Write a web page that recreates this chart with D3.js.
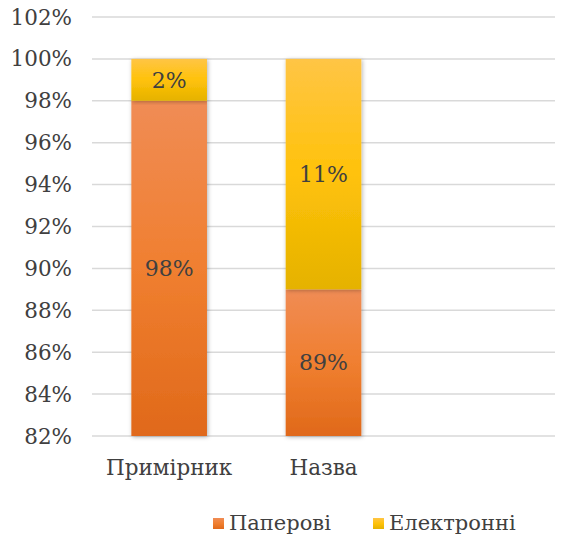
<!DOCTYPE html>
<html>
<head>
<meta charset="utf-8">
<script src="https://cdn.jsdelivr.net/npm/d3@7"></script>
<style>
  body { margin: 0; background: #fff; }
</style>
</head>
<body>
<div id="chart"></div>
<script>
const categories = ["Примірник", "Назва", ""];
const paper = [98, 89, null];
const electronic = [2, 11, null];
const seriesNames = ["Паперові", "Електронні"];
const yTicks = [82, 84, 86, 88, 90, 92, 94, 96, 98, 100, 102];

const width = 565;
const height = 543;
const margin = {top: 17, right: 10, bottom: 107, left: 92};
const font = "'DejaVu Serif', serif";

const svg = d3.select("#chart")
    .append("svg")
    .attr("width", width)
    .attr("height", height)
    .style("font-family", font);

const defs = svg.append("defs");

const gradOrange = defs.append("linearGradient")
    .attr("id", "gOrange")
    .attr("x1", 0).attr("y1", 0).attr("x2", 0).attr("y2", 1);
gradOrange.append("stop").attr("offset", "0%").attr("stop-color", "#f08c55");
gradOrange.append("stop").attr("offset", "50%").attr("stop-color", "#f07f30");
gradOrange.append("stop").attr("offset", "100%").attr("stop-color", "#e0691a");

const gradYellow = defs.append("linearGradient")
    .attr("id", "gYellow")
    .attr("x1", 0).attr("y1", 0).attr("x2", 0).attr("y2", 1);
gradYellow.append("stop").attr("offset", "0%").attr("stop-color", "#ffc545");
gradYellow.append("stop").attr("offset", "50%").attr("stop-color", "#ffc20a");
gradYellow.append("stop").attr("offset", "100%").attr("stop-color", "#e5b200");

const shadow = defs.append("filter")
    .attr("id", "shadow")
    .attr("x", "-20%").attr("y", "-10%").attr("width", "140%").attr("height", "120%");
shadow.append("feDropShadow")
    .attr("dx", 1).attr("dy", 1)
    .attr("stdDeviation", 2)
    .attr("flood-color", "#000")
    .attr("flood-opacity", 0.3);

const x = d3.scaleBand()
    .domain(categories)
    .range([margin.left, width - margin.right])
    .paddingInner(0.51)
    .paddingOuter(0.255);

const y = d3.scaleLinear()
    .domain([82, 102])
    .range([height - margin.bottom, margin.top]);

// gridlines
svg.append("g")
    .selectAll("line")
    .data(yTicks)
    .join("line")
    .attr("x1", margin.left)
    .attr("x2", width - margin.right)
    .attr("y1", d => y(d))
    .attr("y2", d => y(d))
    .attr("stroke", "#d9d9d9")
    .attr("stroke-width", 1.5);

// y labels
svg.append("g")
    .selectAll("text")
    .data(yTicks)
    .join("text")
    .attr("x", 72)
    .attr("y", d => y(d))
    .attr("dy", "0.35em")
    .attr("text-anchor", "end")
    .attr("fill", "#404040")
    .style("font-size", "21.5px")
    .text(d => d + "%");

const rows = categories.map((c, i) => ({cat: c, paper: paper[i], electronic: electronic[i]}))
    .filter(d => d.paper != null);

const bars = svg.append("g");

bars.selectAll("rect.paper")
    .data(rows)
    .join("rect")
    .attr("class", "paper")
    .attr("x", d => x(d.cat))
    .attr("width", x.bandwidth())
    .attr("y", d => y(d.paper))
    .attr("height", d => y(82) - y(d.paper))
    .attr("fill", "url(#gOrange)")
    .attr("filter", "url(#shadow)");

bars.selectAll("rect.elec")
    .data(rows)
    .join("rect")
    .attr("class", "elec")
    .attr("x", d => x(d.cat))
    .attr("width", x.bandwidth())
    .attr("y", d => y(d.paper + d.electronic))
    .attr("height", d => y(d.paper) - y(d.paper + d.electronic))
    .attr("fill", "url(#gYellow)")
    .attr("filter", "url(#shadow)");

// data labels
const labels = svg.append("g")
    .style("font-size", "22px")
    .attr("fill", "#404040")
    .attr("text-anchor", "middle");

labels.selectAll("text.lp")
    .data(rows)
    .join("text")
    .attr("class", "lp")
    .attr("x", d => x(d.cat) + x.bandwidth() / 2)
    .attr("y", d => y((82 + d.paper) / 2))
    .attr("dy", "0.35em")
    .text(d => d.paper + "%");

labels.selectAll("text.le")
    .data(rows)
    .join("text")
    .attr("class", "le")
    .attr("x", d => x(d.cat) + x.bandwidth() / 2)
    .attr("y", d => y(d.paper + d.electronic / 2))
    .attr("dy", "0.35em")
    .text(d => d.electronic + "%");

// category labels
svg.append("g")
    .selectAll("text")
    .data(categories)
    .join("text")
    .attr("x", d => x(d) + x.bandwidth() / 2)
    .attr("y", 467)
    .attr("dy", "0.35em")
    .attr("text-anchor", "middle")
    .attr("fill", "#404040")
    .style("font-size", "21.5px")
    .text(d => d);

// legend
const legendX = [213, 373];
const legendFill = ["url(#gOrange)", "url(#gYellow)"];
const legend = svg.append("g")
    .selectAll("g")
    .data(seriesNames)
    .join("g")
    .attr("transform", (d, i) => `translate(${legendX[i]}, 523)`);

legend.append("rect")
    .attr("x", 0)
    .attr("y", -5)
    .attr("width", 11)
    .attr("height", 11)
    .attr("fill", (d, i) => legendFill[i]);

legend.append("text")
    .attr("x", 16)
    .attr("dy", "0.35em")
    .attr("fill", "#404040")
    .style("font-size", "21px")
    .text(d => d);
</script>
</body>
</html>
